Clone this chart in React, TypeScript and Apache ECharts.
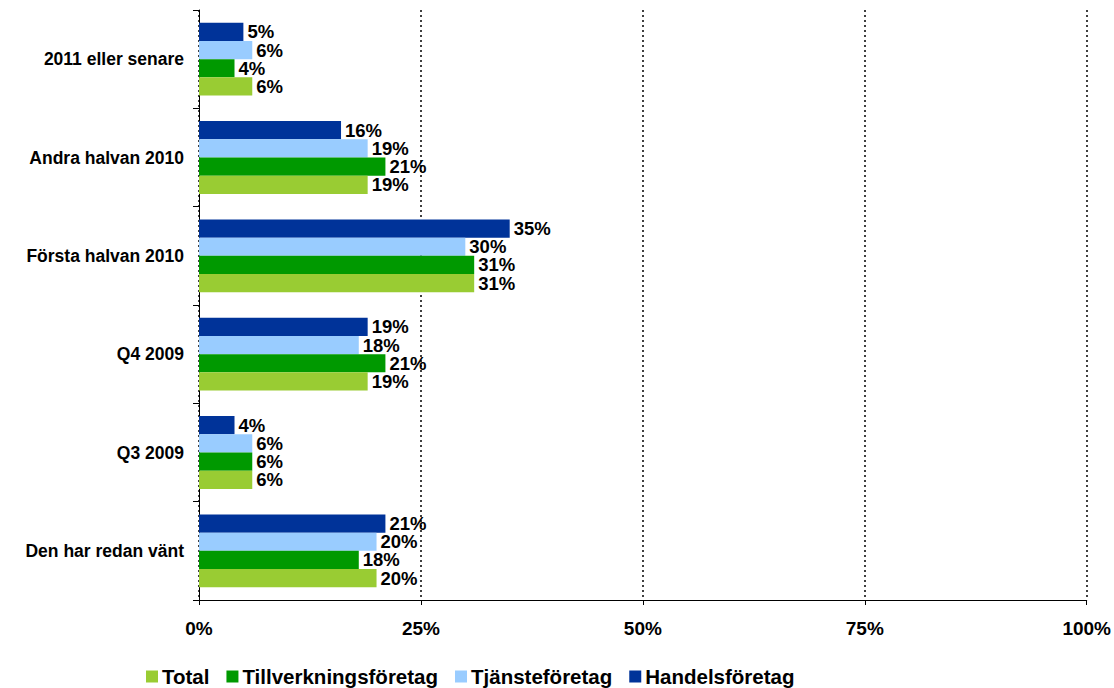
import React, { useEffect, useRef } from "react";
import * as echarts from "echarts";

const categories = [
  "2011 eller senare",
  "Andra halvan 2010",
  "Första halvan 2010",
  "Q4 2009",
  "Q3 2009",
  "Den har redan vänt",
];
const seriesNames = ["Total", "Tillverkningsföretag", "Tjänsteföretag", "Handelsföretag"];
const totalValues = [6, 19, 31, 19, 6, 20];
const tillverkningValues = [4, 21, 31, 21, 6, 18];
const tjansteValues = [6, 19, 30, 18, 6, 20];
const handelsValues = [5, 16, 35, 19, 4, 21];
const colors = ["#99CC33", "#009900", "#99CCFF", "#003399"];
const xTicks = [0, 25, 50, 75, 100];

export default function App() {
  const ref = useRef<HTMLDivElement>(null);
  useEffect(() => {
    if (!ref.current) return;
    const chart = echarts.init(ref.current, null, { renderer: "svg" });
    const values = [totalValues, tillverkningValues, tjansteValues, handelsValues];
    const font = "Arial, 'Liberation Sans', sans-serif";
    chart.setOption({
      animation: false,
      textStyle: { fontFamily: font },
      legend: {
        data: seriesNames,
        top: 666,
        left: 146,
        padding: 0,
        itemWidth: 12,
        itemHeight: 12,
        itemGap: 17,
        icon: "rect",
        textStyle: { fontSize: 20.5, lineHeight: 20, fontWeight: "bold", color: "#000", fontFamily: font, padding: [0, 0, 0, -1] },
      },
      grid: { left: 199, top: 10, width: 888, height: 590, containLabel: false },
      xAxis: {
        type: "value",
        min: 0,
        max: 100,
        interval: 25,
        axisLine: { show: true, lineStyle: { color: "#000" } },
        axisTick: { show: true, length: 5, lineStyle: { color: "#000" } },
        axisLabel: {
          formatter: (v: number) => (xTicks.includes(v) ? v + "%" : ""),
          fontSize: 19,
          fontWeight: "bold",
          color: "#000",
          margin: 19,
          fontFamily: font,
        },
        splitLine: { show: true, lineStyle: { color: "#000", type: [2, 3], width: 1.5 } },
      },
      yAxis: {
        type: "category",
        data: categories,
        inverse: true,
        axisLine: { show: true, lineStyle: { color: "#000" } },
        axisTick: { show: true, length: 6, lineStyle: { color: "#000" } },
        axisLabel: { fontSize: 17.5, fontWeight: "bold", color: "#000", margin: 15, fontFamily: font },
      },
      series: seriesNames.map((name, i) => ({
        name,
        type: "bar",
        data: values[i],
        barGap: "0%",
        barCategoryGap: "26%",
        itemStyle: { color: colors[i] },
        label: {
          show: true,
          position: "right",
          distance: 4,
          formatter: "{c}%",
          fontSize: 18.5,
          lineHeight: 16,
          fontWeight: "bold",
          color: "#000",
          fontFamily: font,
        },
      })).reverse(),
    });
    return () => chart.dispose();
  }, []);
  return (
    <div
      ref={ref}
      style={{ position: "fixed", left: 0, top: 0, width: 1114, height: 688, background: "#fff" }}
    />
  );
}
